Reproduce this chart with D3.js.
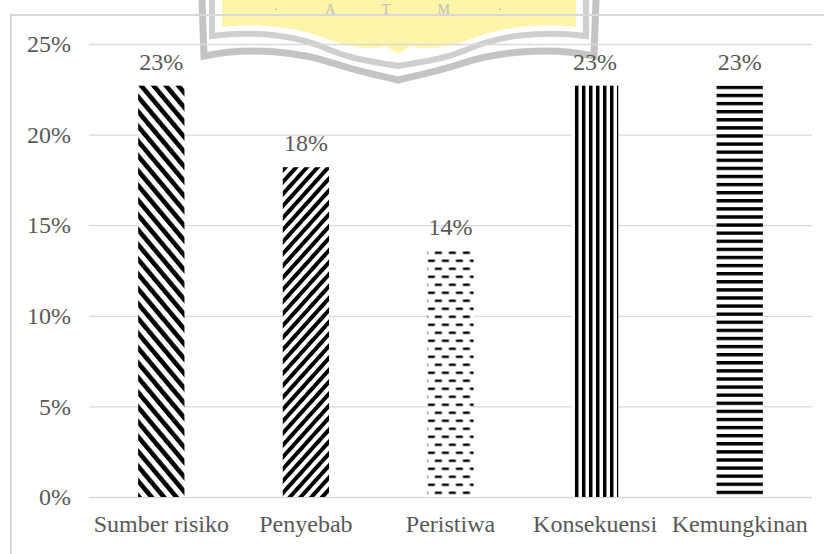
<!DOCTYPE html>
<html>
<head>
<meta charset="utf-8">
<script src="https://cdn.jsdelivr.net/npm/d3@7/dist/d3.min.js"></script>
<style>
  html, body { margin: 0; padding: 0; background: #ffffff; }
  svg { display: block; }
  text { font-family: "Liberation Serif", "Times New Roman", serif; }
</style>
</head>
<body>
<svg id="chart" width="824" height="554"></svg>
<script>
// ---- data ----
const categories = ["Sumber risiko", "Penyebab", "Peristiwa", "Konsekuensi", "Kemungkinan"];
const values = [0.227, 0.182, 0.136, 0.227, 0.227];
const valueLabels = ["23%", "18%", "14%", "23%", "23%"];
const yTickValues = [0, 0.05, 0.10, 0.15, 0.20, 0.25];
const fillPatterns = ["diagDown", "diagUp", "dashH", "vertical", "horizontal"];

// ---- layout ----
const W = 824, H = 554;
const plot = { left: 89, right: 812, top: 44, bottom: 497 };
const textColor = "#595959";
const gridColor = "#d9d9d9";

const svg = d3.select("#chart");
const defs = svg.append("defs");

// ---- watermark (decorative logo fragment at top) ----
const wm = svg.append("g").attr("class", "watermark");
wm.append("path")
  .attr("d", "M222,0 L222,27 C262,22 300,28 330,40 C352,48 372,50 386,46 L398,54 L410,46 C424,50 446,48 468,40 C498,28 536,22 576,27 L576,0 Z")
  .attr("fill", "#fff5a8");
wm.append("path")
  .attr("d", "M212,0 L212,36 C256,30 300,36 330,50 C354,60 376,62 398,66 C420,62 442,60 466,50 C496,36 540,30 586,36 L586,0")
  .attr("fill", "none").attr("stroke", "#cfcfcf").attr("stroke-width", 6);
wm.append("path")
  .attr("d", "M202,0 L204,56 C250,46 300,52 336,64 C360,72 382,76 398,80 C414,76 436,72 460,64 C496,52 548,46 594,56 L596,0")
  .attr("fill", "none").attr("stroke", "#c4c4c4").attr("stroke-width", 7);
wm.append("text")
  .attr("x", 399).attr("y", 14).attr("text-anchor", "middle")
  .attr("font-size", 14).attr("fill", "#bdbdbd").attr("letter-spacing", 22)
  .text("· A T M ·");

// ---- frame ----
svg.append("path")
  .attr("d", `M11,${H + 2} L11,15 L${W + 2},15`)
  .attr("fill", "none").attr("stroke", gridColor).attr("stroke-width", 2);

// ---- scales ----
const x = d3.scaleBand()
  .domain(categories)
  .range([plot.left, plot.right])
  .paddingInner(0.68)
  .paddingOuter(0.34);

const y = d3.scaleLinear()
  .domain([0, 0.25])
  .range([plot.bottom, plot.top]);

// ---- y axis with gridlines ----
const yAxis = d3.axisLeft(y)
  .tickValues(yTickValues)
  .tickFormat(d3.format(".0%"))
  .tickSizeInner(-(plot.right - plot.left))
  .tickSizeOuter(0)
  .tickPadding(18);

const gy = svg.append("g")
  .attr("transform", `translate(${plot.left},0)`)
  .call(yAxis);
gy.select(".domain").remove();
gy.selectAll(".tick line").attr("stroke", gridColor).attr("stroke-width", 1.3);
gy.selectAll(".tick text")
  .attr("fill", textColor)
  .attr("font-size", 24)
  .style("font-family", "'Liberation Serif', 'Times New Roman', serif");

// ---- patterns (one per bar, anchored to the bar) ----
const bw = x.bandwidth();
categories.forEach((c, i) => {
  const bx = x(c), by = y(values[i]);
  const type = fillPatterns[i];
  let p;
  if (type === "diagDown") {
    p = defs.append("pattern").attr("id", "pat" + i)
      .attr("patternUnits", "userSpaceOnUse")
      .attr("width", 9.5).attr("height", 20)
      .attr("patternTransform", `translate(${bx},${by}) rotate(-40)`);
    p.append("rect").attr("width", 9.5).attr("height", 20).attr("fill", "#fff");
    p.append("rect").attr("width", 4.6).attr("height", 20).attr("fill", "#000");
  } else if (type === "diagUp") {
    p = defs.append("pattern").attr("id", "pat" + i)
      .attr("patternUnits", "userSpaceOnUse")
      .attr("width", 8).attr("height", 20)
      .attr("patternTransform", `translate(${bx},${by}) rotate(42)`);
    p.append("rect").attr("width", 8).attr("height", 20).attr("fill", "#fff");
    p.append("rect").attr("width", 4).attr("height", 20).attr("fill", "#000");
  } else if (type === "dashH") {
    p = defs.append("pattern").attr("id", "pat" + i)
      .attr("patternUnits", "userSpaceOnUse")
      .attr("width", 14).attr("height", 16)
      .attr("patternTransform", `translate(${bx + 4},${by + 1})`);
    p.append("rect").attr("width", 14).attr("height", 16).attr("fill", "#fff");
    p.append("rect").attr("x", 3.5).attr("y", 0).attr("width", 7).attr("height", 2.4).attr("fill", "#000");
    p.append("rect").attr("x", 10.5).attr("y", 8).attr("width", 7).attr("height", 2.4).attr("fill", "#000");
    p.append("rect").attr("x", -3.5).attr("y", 8).attr("width", 7).attr("height", 2.4).attr("fill", "#000");
  } else if (type === "vertical") {
    p = defs.append("pattern").attr("id", "pat" + i)
      .attr("patternUnits", "userSpaceOnUse")
      .attr("width", 7).attr("height", 20)
      .attr("patternTransform", `translate(${bx + 3},${by})`);
    p.append("rect").attr("width", 7).attr("height", 20).attr("fill", "#fff");
    p.append("rect").attr("width", 3.5).attr("height", 20).attr("fill", "#000");
  } else {
    p = defs.append("pattern").attr("id", "pat" + i)
      .attr("patternUnits", "userSpaceOnUse")
      .attr("width", 20).attr("height", 8.1)
      .attr("patternTransform", `translate(${bx},${by})`);
    p.append("rect").attr("width", 20).attr("height", 8.1).attr("fill", "#fff");
    p.append("rect").attr("width", 20).attr("height", 3.4).attr("fill", "#000");
  }
});

// ---- bars ----
svg.append("g").selectAll("rect")
  .data(categories)
  .join("rect")
  .attr("x", d => x(d))
  .attr("y", (d, i) => y(values[i]))
  .attr("width", bw)
  .attr("height", (d, i) => y(0) - y(values[i]))
  .attr("fill", (d, i) => `url(#pat${i})`);

// ---- value labels ----
svg.append("g").selectAll("text")
  .data(categories)
  .join("text")
  .attr("x", d => x(d) + bw / 2)
  .attr("y", (d, i) => y(values[i]) - 16)
  .attr("text-anchor", "middle")
  .attr("fill", textColor)
  .attr("font-size", 24)
  .text((d, i) => valueLabels[i]);

// ---- x axis ----
const xAxis = d3.axisBottom(x).tickSize(0).tickPadding(18);
const gx = svg.append("g")
  .attr("transform", `translate(0,${plot.bottom})`)
  .call(xAxis);
gx.select(".domain").remove();
gx.selectAll(".tick text")
  .attr("fill", textColor)
  .attr("font-size", 24)
  .style("font-family", "'Liberation Serif', 'Times New Roman', serif");
</script>
</body>
</html>
